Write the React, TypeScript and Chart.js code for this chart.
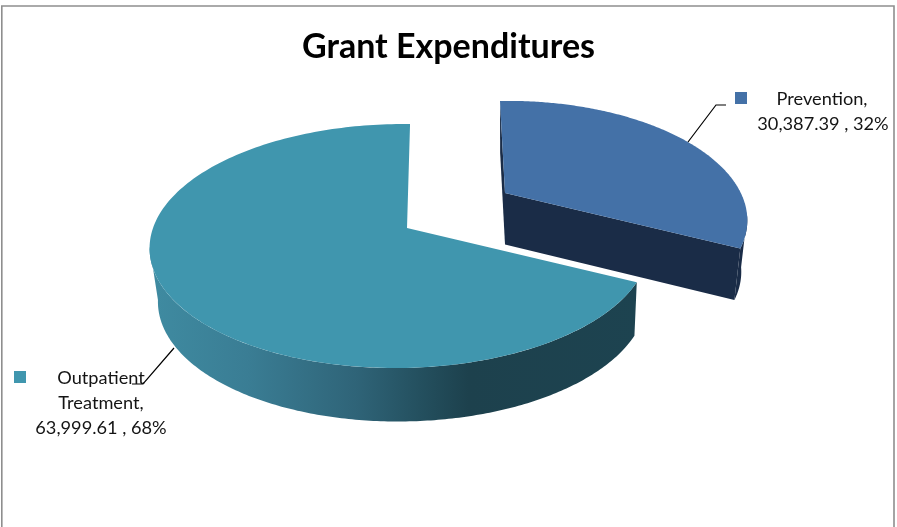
import React, { useEffect, useRef } from "react";
import { Chart, registerables } from "chart.js";

Chart.register(...registerables);

const categories = ["Prevention", "Outpatient Treatment"];
const amounts = [30387.39, 63999.61];
const labelLines = [
  ["Prevention,", "30,387.39 , 32%"],
  ["Outpatient", "Treatment,", "63,999.61 , 68%"],
];
const topColors = ["#4471a7", "#4096ae"];
const chartTitle = "Grant Expenditures";

type Proj = {
  x0: number; y0: number; A: number; B: number; C: number; p: number; q: number;
  sx: number; sy: number; e: number; d: number;
};
const projections: Proj[] = [
  { x0: 505, y0: 193, A: 224.5, B: 110.4, C: 6, p: 0.2, q: -0.048, sx: 0.975, sy: 1, e: 0, d: 51.5 },
  { x0: 407, y0: 228, A: 247, B: 119.3, C: -3.5, p: 0.1475, q: 0.0275, sx: 0.978, sy: 1, e: 2.7, d: 53.5 },
];

function project(P: Proj, a: number, bottom = false) {
  // a is a Chart.js arc angle; -PI/2 is the top of the pie
  const u = Math.cos(a);
  const v = Math.sin(a);
  const w = 1 - P.p * v + P.q * u;
  let dx = (P.A * u + P.C * v) / w;
  let dy = (P.B * v) / w;
  if (bottom) {
    dx = dx * P.sx + P.e;
    dy = dy * P.sy + P.d;
  }
  return { x: P.x0 + dx, y: P.y0 + dy };
}

function arcPath(ctx: CanvasRenderingContext2D, P: Proj, a0: number, a1: number, bottom: boolean, move: boolean) {
  const n = 200;
  for (let i = 0; i <= n; i++) {
    const pt = project(P, a0 + ((a1 - a0) * i) / n, bottom);
    if (i === 0 && move) ctx.moveTo(pt.x, pt.y);
    else ctx.lineTo(pt.x, pt.y);
  }
}

const piePlugin = {
  id: "pie3d",
  beforeDatasetsDraw(chart: any) {
    const ctx: CanvasRenderingContext2D = chart.ctx;
    const arcs = chart.getDatasetMeta(0).data;

    // frame
    ctx.save();
    ctx.strokeStyle = "#8e8e8e";
    ctx.lineWidth = 1.6;
    ctx.beginPath();
    ctx.moveTo(1.8, 527);
    ctx.lineTo(1.8, 6);
    ctx.lineTo(894, 6);
    ctx.lineTo(894, 527);
    ctx.stroke();
    ctx.restore();

    const drawSlice = (idx: number) => {
      const arc = arcs[idx];
      const P = projections[idx];
      const a0 = arc.startAngle;
      const a1 = arc.endAngle;
      ctx.save();
      if (idx === 0) {
        // blue: cut faces and the visible part of the rim
        ctx.fillStyle = "#1a2c47";
        ctx.beginPath();
        const s0 = project(P, a0);
        const c = { x: P.x0, y: P.y0 };
        const cb = { x: P.x0, y: P.y0 + P.d };
        const s0b = project(P, a0, true);
        ctx.moveTo(s0.x, s0.y);
        ctx.lineTo(s0b.x, s0b.y);
        ctx.lineTo(cb.x, cb.y);
        ctx.lineTo(c.x, c.y);
        ctx.closePath();
        ctx.fill();
        const e = project(P, a1);
        const eb = project(P, a1, true);
        ctx.beginPath();
        ctx.moveTo(c.x, c.y);
        ctx.lineTo(cb.x, cb.y);
        ctx.lineTo(eb.x, eb.y);
        ctx.lineTo(e.x, e.y);
        ctx.closePath();
        ctx.fill();
        const m = a0 + (a1 - a0) * 0.87;
        ctx.beginPath();
        arcPath(ctx, P, m, a1, false, true);
        arcPath(ctx, P, a1, m, true, false);
        ctx.closePath();
        ctx.fill();
      } else {
        const grad = ctx.createLinearGradient(150, 0, 640, 0);
        grad.addColorStop(0, "#3f8ba1");
        grad.addColorStop(0.2, "#3a7d94");
        grad.addColorStop(0.42, "#2f6478");
        grad.addColorStop(0.55, "#24505f");
        grad.addColorStop(0.65, "#1d414d");
        grad.addColorStop(1, "#1d4350");
        ctx.fillStyle = grad;
        const m = Math.PI * 0.953;
        ctx.beginPath();
        arcPath(ctx, P, a0, m, false, true);
        arcPath(ctx, P, m, a0, true, false);
        ctx.closePath();
        ctx.fill();
      }
      ctx.fillStyle = topColors[idx];
      ctx.beginPath();
      ctx.moveTo(P.x0, P.y0);
      arcPath(ctx, P, a0, a1, false, false);
      ctx.closePath();
      ctx.fill();
      ctx.restore();
    };
    drawSlice(1);
    drawSlice(0);
    return false;
  },
  afterDraw(chart: any) {
    const ctx: CanvasRenderingContext2D = chart.ctx;
    ctx.save();
    ctx.strokeStyle = "#000";
    ctx.lineWidth = 1.2;
    ctx.beginPath();
    ctx.moveTo(688, 142);
    ctx.lineTo(716, 105);
    ctx.lineTo(726, 105);
    ctx.moveTo(174, 348);
    ctx.lineTo(143, 384);
    ctx.lineTo(132, 384);
    ctx.stroke();

    ctx.fillStyle = topColors[0];
    ctx.fillRect(735, 92, 12, 12);
    ctx.fillStyle = topColors[1];
    ctx.fillRect(14, 371, 12, 12);

    ctx.fillStyle = "#141414";
    ctx.font = "18.2px Lato, 'Open Sans', sans-serif";
    ctx.textAlign = "center";
    ctx.textBaseline = "middle";
    ctx.fillText(labelLines[0][0], 822, 99);
    ctx.fillText(labelLines[0][1], 823, 124);
    ctx.fillText(labelLines[1][0], 101, 378);
    ctx.fillText(labelLines[1][1], 101, 403);
    ctx.fillText(labelLines[1][2], 101, 428);
    ctx.restore();
  },
};

export default function App() {
  const ref = useRef<HTMLCanvasElement>(null);
  useEffect(() => {
    const chart = new Chart(ref.current!, {
      type: "pie",
      data: {
        labels: categories,
        datasets: [{ data: amounts, backgroundColor: topColors, borderWidth: 0 }],
      },
      options: {
        responsive: false,
        animation: false,
        layout: { padding: { top: 27 } },
        plugins: {
          legend: { display: false },
          tooltip: { enabled: false },
          title: {
            display: true,
            text: chartTitle,
            color: "#000",
            font: { family: "Lato, 'Open Sans', sans-serif", size: 34, weight: "bold" },
            padding: { top: 0, bottom: 0 },
          },
        },
      },
      plugins: [piePlugin],
    } as any);
    return () => chart.destroy();
  }, []);
  return (
    <div style={{ position: "absolute", left: 0, top: 0, width: 897, height: 527, background: "#fff" }}>
      <canvas ref={ref} width={897} height={527} style={{ display: "block" }} />
    </div>
  );
}
